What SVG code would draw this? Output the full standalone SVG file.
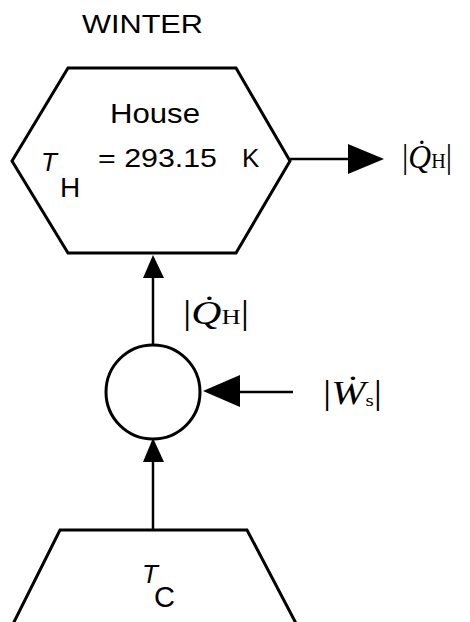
<svg xmlns="http://www.w3.org/2000/svg" width="470" height="622" viewBox="0 0 470 622">
<style>
.shape{fill:none;stroke:#000;stroke-width:3;stroke-linejoin:miter}
.conn{fill:none;stroke:#000;stroke-width:2.5}
.sans{font-family:"Liberation Sans",Arial,sans-serif;fill:#000}
.ser{font-family:"Liberation Serif","Times New Roman",serif;fill:#000}
.it{font-style:italic}
</style>
<rect width="470" height="622" fill="#fff"/>
<text class="sans" x="82" y="33" font-size="25" textLength="121" lengthAdjust="spacingAndGlyphs">WINTER</text>
<g id="house">
<polygon class="shape" points="68,68 236,68 290,161 236,253 68,253 12,161"/>
<text class="sans" x="110" y="123" font-size="28" textLength="90" lengthAdjust="spacingAndGlyphs">House</text>
<text class="sans it" x="41" y="171" font-size="26">T</text>
<text class="sans" x="60" y="197" font-size="28">H</text>
<text class="sans" x="98" y="167" font-size="26" textLength="119" lengthAdjust="spacingAndGlyphs">= 293.15</text>
<text class="sans" x="242" y="167" font-size="26">K</text>
</g>
<g id="pump">
<circle class="shape" cx="153" cy="392" r="47"/>
</g>
<g id="cold">
<polyline class="shape" points="0,650 60,530 247,530 310,650"/>
<text class="sans it" x="142" y="583" font-size="26">T</text>
<text class="sans" x="154" y="607" font-size="29">C</text>
</g>
<g id="connectors">
<line class="conn" x1="290" y1="159" x2="350" y2="159"/>
<polygon points="348,144 384,159 348,174" fill="#000"/>
<line class="conn" x1="153" y1="345" x2="153" y2="276"/>
<polygon points="153,255 143,278 164,278" fill="#000"/>
<line class="conn" x1="293" y1="392" x2="238" y2="392"/>
<polygon points="203,391 240,375 240,407" fill="#000"/>
<line class="conn" x1="153" y1="529" x2="153" y2="460"/>
<polygon points="153,438 143,462 164,462" fill="#000"/>
</g>
<g id="labels">
<text class="ser" x="402" y="168" font-size="33" textLength="50" lengthAdjust="spacingAndGlyphs">|<tspan class="it">Q̇</tspan><tspan font-size="21">H</tspan>|</text>
<text class="ser" x="183" y="324" font-size="33" textLength="66" lengthAdjust="spacingAndGlyphs">|<tspan class="it">Q̇</tspan><tspan font-size="21">H</tspan>|</text>
<text class="ser" x="323" y="404" font-size="33" textLength="59" lengthAdjust="spacingAndGlyphs">|<tspan class="it">Ẇ</tspan><tspan font-size="17" dy="2">s</tspan><tspan dy="-2">|</tspan></text>
</g>
</svg>
